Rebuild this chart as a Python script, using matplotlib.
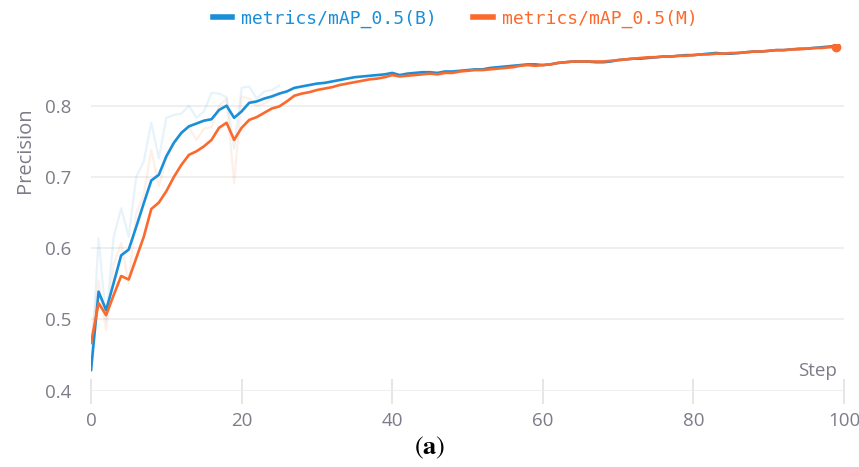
import matplotlib.pyplot as plt
import numpy as np

plt.rcParams["mathtext.fontset"] = "stix"

# smoothed curves, steps 0..99
map_b = [0.429, 0.539, 0.513, 0.551, 0.590, 0.598, 0.630, 0.663, 0.695, 0.703,
         0.729, 0.748, 0.762, 0.771, 0.775, 0.779, 0.781, 0.794, 0.800, 0.783,
         0.792, 0.804, 0.806, 0.810, 0.813, 0.817, 0.820, 0.825, 0.827, 0.829,
         0.831, 0.832, 0.834, 0.836, 0.838, 0.840, 0.841, 0.842, 0.843, 0.844,
         0.846, 0.843, 0.845, 0.846, 0.847, 0.847, 0.846, 0.848, 0.848, 0.849,
         0.850, 0.851, 0.851, 0.853, 0.854, 0.855, 0.856, 0.857, 0.858, 0.858,
         0.857, 0.858, 0.860, 0.861, 0.862, 0.862, 0.862, 0.861, 0.861, 0.862,
         0.864, 0.865, 0.866, 0.866, 0.867, 0.868, 0.869, 0.869, 0.870, 0.871,
         0.871, 0.872, 0.873, 0.874, 0.873, 0.873, 0.874, 0.875, 0.876, 0.876,
         0.877, 0.878, 0.878, 0.879, 0.880, 0.880, 0.881, 0.882, 0.883, 0.884]
map_m = [0.467, 0.523, 0.506, 0.534, 0.561, 0.556, 0.586, 0.616, 0.655, 0.664,
         0.680, 0.700, 0.717, 0.731, 0.736, 0.743, 0.752, 0.769, 0.776, 0.752,
         0.769, 0.780, 0.784, 0.790, 0.796, 0.799, 0.806, 0.814, 0.817, 0.819,
         0.822, 0.824, 0.826, 0.829, 0.831, 0.833, 0.835, 0.837, 0.838, 0.840,
         0.843, 0.841, 0.842, 0.843, 0.844, 0.845, 0.844, 0.846, 0.846, 0.848,
         0.849, 0.850, 0.850, 0.851, 0.852, 0.853, 0.854, 0.856, 0.857, 0.856,
         0.857, 0.858, 0.860, 0.861, 0.862, 0.862, 0.862, 0.862, 0.862, 0.863,
         0.864, 0.865, 0.866, 0.867, 0.868, 0.868, 0.869, 0.869, 0.870, 0.870,
         0.871, 0.872, 0.872, 0.873, 0.873, 0.874, 0.874, 0.875, 0.876, 0.876,
         0.877, 0.878, 0.878, 0.879, 0.879, 0.880, 0.881, 0.881, 0.882, 0.883]

# faint raw values, early steps only (later they sit under the smoothed lines)
raw_b = [0.429, 0.614, 0.499, 0.616, 0.656, 0.616, 0.700, 0.722, 0.776, 0.726,
         0.783, 0.787, 0.789, 0.800, 0.783, 0.792, 0.818, 0.817, 0.812, 0.740,
         0.825, 0.827, 0.810, 0.820, 0.822, 0.828]
raw_m = [0.467, 0.555, 0.485, 0.577, 0.607, 0.551, 0.649, 0.675, 0.738, 0.687,
         0.724, 0.744, 0.760, 0.770, 0.752, 0.768, 0.770, 0.800, 0.810, 0.691,
         0.813, 0.810, 0.800, 0.803, 0.810, 0.815]

labels = ["metrics/mAP_0.5(B)", "metrics/mAP_0.5(M)"]
blue = "#1a8fd8"
orange = "#fb6a2c"
grey = "#7c7c8a"

steps = np.arange(len(map_b))

fig = plt.figure(figsize=(8.59, 4.67), dpi=100)
ax = fig.add_axes([0.106, 0.1634, 0.8765, 0.743])

ax.plot(np.arange(len(raw_b)), raw_b, color=blue, alpha=0.1, lw=1.6)
ax.plot(np.arange(len(raw_m)), raw_m, color=orange, alpha=0.1, lw=1.6)
ax.plot(steps, map_b, color=blue, lw=1.9, label=labels[0])
ax.plot(steps, map_m, color=orange, lw=1.9, label=labels[1])
ax.plot(steps[-1], map_m[-1], "o", color=orange, ms=6)

ax.set_xlim(0, 100)
ax.set_ylim(0.4, 0.887)
ax.set_yticks([0.4, 0.5, 0.6, 0.7, 0.8])
ax.set_xticks([0, 20, 40, 60, 80, 100])
for s in ax.spines.values():
    s.set_visible(False)
ax.grid(axis="y", color="#ececec", lw=1.2)
ax.set_axisbelow(True)
ax.tick_params(axis="y", length=0, pad=14, labelsize=13.5, labelcolor=grey)
ax.tick_params(axis="x", direction="inout", length=18, width=1.2, color="#e2e2e2",
               pad=6, labelsize=13.5, labelcolor=grey)
for lab in ax.get_xticklabels() + ax.get_yticklabels():
    lab.set_family("Open Sans")

ax.set_ylabel("Precision", fontsize=14.5, color=grey, family="Open Sans")
ax.yaxis.set_label_coords(-0.074, 0.694)
ax.text(0.99, 0.03, "Step", transform=ax.transAxes, ha="right", va="bottom",
        fontsize=13.5, color=grey, family="Open Sans")

leg = fig.legend(loc="upper center", bbox_to_anchor=(0.53, 1.015), ncol=2, frameon=False,
                 handlelength=1.1, handletextpad=0.5, columnspacing=2.0,
                 prop={"family": "DejaVu Sans Mono", "size": 13})
for line, txt in zip(leg.get_lines(), leg.get_texts()):
    line.set_linewidth(4)
    txt.set_color(line.get_color())

fig.text(0.5, 0.012, r"($\mathbf{a}$)", fontsize=19, family="STIXGeneral",
         ha="center", va="bottom")

fig.savefig("out.png", dpi=100)
